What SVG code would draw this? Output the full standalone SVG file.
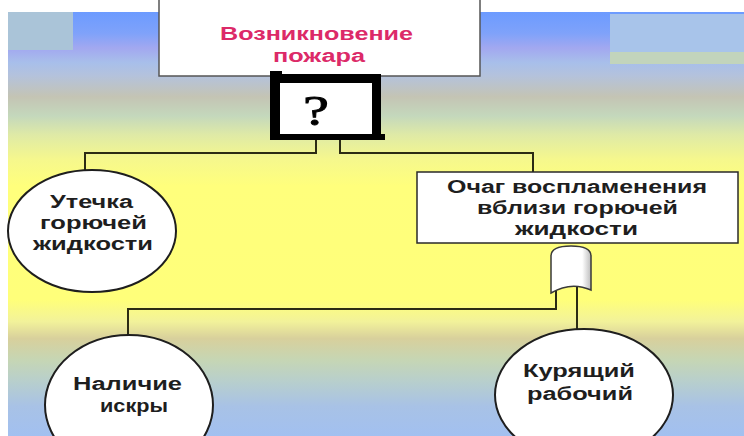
<svg xmlns="http://www.w3.org/2000/svg" width="744" height="436" viewBox="0 0 744 436">
<defs>
<linearGradient id="bgGrad" gradientUnits="userSpaceOnUse" x1="0" y1="12" x2="0" y2="436">
<stop offset="0" stop-color="#6c9bff"/>
<stop offset="0.05" stop-color="#7fa2fa"/>
<stop offset="0.085" stop-color="#a2a8f0"/>
<stop offset="0.12" stop-color="#a8bfea"/>
<stop offset="0.15" stop-color="#b4c2dc"/>
<stop offset="0.2" stop-color="#c4c4b4"/>
<stop offset="0.245" stop-color="#c4d8bc"/>
<stop offset="0.29" stop-color="#dfeaa6"/>
<stop offset="0.35" stop-color="#f6f88c"/>
<stop offset="0.41" stop-color="#ffff7c"/>
<stop offset="0.68" stop-color="#ffff7a"/>
<stop offset="0.73" stop-color="#f2f29a"/>
<stop offset="0.77" stop-color="#d8d09c"/>
<stop offset="0.82" stop-color="#c6d6b4"/>
<stop offset="0.87" stop-color="#b8cfcc"/>
<stop offset="0.93" stop-color="#a8c2e6"/>
<stop offset="1" stop-color="#a2c0f0"/>
</linearGradient>
<linearGradient id="gateGrad" x1="0" y1="0" x2="1" y2="0">
<stop offset="0" stop-color="#ffffff"/>
<stop offset="0.78" stop-color="#ffffff"/>
<stop offset="1" stop-color="#bdbdbd"/>
</linearGradient>
<style>
.lbl{font-family:"Liberation Sans",Arial,sans-serif;font-weight:bold;font-size:18px;fill:#1e1e1e;text-anchor:middle}
.title{font-family:"Liberation Sans",Arial,sans-serif;font-weight:bold;font-size:18px;fill:#dc2a68;text-anchor:middle}
.shape{fill:#ffffff;stroke:#1e1e1e;stroke-width:2}
.conn{fill:none;stroke:#2b2b14;stroke-width:2}
</style>
</defs>

<g id="background">
<rect x="0" y="0" width="744" height="436" fill="#ffffff"/>
<rect x="8" y="12" width="736" height="424" fill="url(#bgGrad)"/>
<rect x="8" y="12" width="65" height="38" fill="#aac4d8"/>
<rect x="610" y="14" width="134" height="38" fill="#a8c4ea"/>
<rect x="610" y="52" width="134" height="12" fill="#c2d4bc"/>
</g>

<g id="connectors">
<polyline class="conn" points="316,140 316,153 85,153 85,170"/>
<polyline class="conn" points="340,140 340,153 533,153 533,172"/>
<polyline class="conn" points="556,290 556,309 128,309 128,335"/>
<polyline class="conn" points="577,286 577,329"/>
</g>

<g id="node-fire">
<rect x="159" y="-5" width="321" height="81" fill="#ffffff" stroke="#555555" stroke-width="1.5"/>
<text class="title" x="316.5" y="40" textLength="193" lengthAdjust="spacingAndGlyphs">Возникновение</text>
<text class="title" x="319" y="62" textLength="92" lengthAdjust="spacingAndGlyphs">пожара</text>
</g>

<g id="node-question">
<rect x="270" y="74" width="111" height="66" fill="#000000"/>
<rect x="270" y="71" width="12" height="5" fill="#000000"/>
<rect x="376" y="134" width="9" height="6" fill="#000000"/>
<rect x="280" y="83" width="92" height="51" fill="#ffffff"/>
<text x="316" y="125" font-family="'Liberation Serif','Times New Roman',serif" font-size="42" fill="#000000" stroke="#000000" stroke-width="0.8" text-anchor="middle" textLength="26" lengthAdjust="spacingAndGlyphs">?</text>
</g>

<g id="node-leak">
<ellipse class="shape" cx="92" cy="231" rx="84" ry="61"/>
<text class="lbl" x="91.5" y="208" textLength="83" lengthAdjust="spacingAndGlyphs">Утечка</text>
<text class="lbl" x="93.5" y="229" textLength="107" lengthAdjust="spacingAndGlyphs">горючей</text>
<text class="lbl" x="93" y="250" textLength="120" lengthAdjust="spacingAndGlyphs">жидкости</text>
</g>

<g id="node-ignition">
<rect x="417" y="172" width="321" height="71" fill="#ffffff" stroke="#2a2a2a" stroke-width="1.5"/>
<text class="lbl" x="577" y="193" textLength="260" lengthAdjust="spacingAndGlyphs">Очаг воспламенения</text>
<text class="lbl" x="577.5" y="214" textLength="201" lengthAdjust="spacingAndGlyphs">вблизи горючей</text>
<text class="lbl" x="576.5" y="235" textLength="123" lengthAdjust="spacingAndGlyphs">жидкости</text>
</g>

<g id="node-gate">
<path d="M551,293 L551,256 Q551,246 571,246 Q591,246 591,256 L591,290 Q571,281 551,293 Z" fill="url(#gateGrad)" stroke="#3a3a3a" stroke-width="1.5"/>
</g>

<g id="node-spark">
<ellipse class="shape" cx="129" cy="405" rx="84" ry="70"/>
<text class="lbl" x="127.5" y="390" textLength="109" lengthAdjust="spacingAndGlyphs">Наличие</text>
<text class="lbl" x="134" y="412" textLength="68" lengthAdjust="spacingAndGlyphs">искры</text>
</g>

<g id="node-smoker">
<ellipse class="shape" cx="584" cy="395" rx="89" ry="66"/>
<text class="lbl" x="579" y="377" textLength="112" lengthAdjust="spacingAndGlyphs">Курящий</text>
<text class="lbl" x="580" y="400" textLength="106" lengthAdjust="spacingAndGlyphs">рабочий</text>
</g>
</svg>
